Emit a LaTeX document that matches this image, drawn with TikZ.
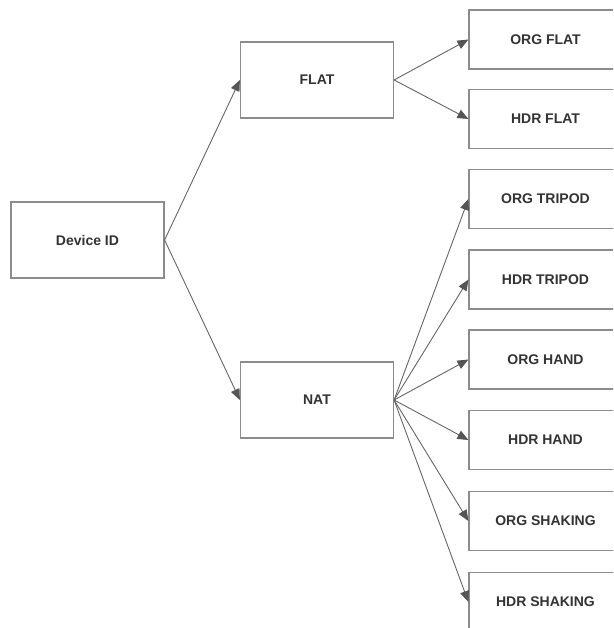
\documentclass[tikz,border=0pt]{standalone}
\usepackage{fontspec}
\setmainfont{Liberation Sans}
\usetikzlibrary{arrows.meta}
\definecolor{boxline}{HTML}{8C8C8C}
\definecolor{arrline}{HTML}{666666}
\definecolor{arrhead}{HTML}{555555}
\definecolor{txt}{HTML}{333333}
\begin{document}
\begin{tikzpicture}[x=1pt,y=-1pt,
  box/.style={draw=boxline,line width=1.2pt,fill=white,minimum width=153pt,minimum height=76pt,inner sep=0pt,font=\fontsize{14}{16}\selectfont\bfseries,text=txt},
  leaf/.style={box,minimum height=59pt},
  conn/.style={draw=arrline,line width=0.9pt,-{Triangle[length=11pt,width=9pt,color=arrhead]}}]
\clip (0,0) rectangle (613,628);
\fill[white] (0,0) rectangle (613,628);
\node[box] (dev) at (87.5,240) {Device ID};
\node[box] (flat) at (317,80) {FLAT};
\node[box] (nat) at (317,400) {NAT};
\node[leaf] (orgflat) at (545.5,39.5) {ORG FLAT};
\node[leaf] (hdrflat) at (545.5,119) {HDR FLAT};
\node[leaf] (orgtri) at (545.5,199) {ORG TRIPOD};
\node[leaf] (hdrtri) at (545.5,279.5) {HDR TRIPOD};
\node[leaf] (orghand) at (545.5,359.5) {ORG HAND};
\node[leaf] (hdrhand) at (545.5,440) {HDR HAND};
\node[leaf] (orgshak) at (545.5,521) {ORG SHAKING};
\node[leaf] (hdrshak) at (545.5,602) {HDR SHAKING};
\draw[conn] (dev.east) -- (flat.west);
\draw[conn] (dev.east) -- (nat.west);
\draw[conn] (flat.east) -- (orgflat.west);
\draw[conn] (flat.east) -- (hdrflat.west);
\foreach \t in {orgtri,hdrtri,orghand,hdrhand,orgshak,hdrshak}
  \draw[conn] (nat.east) -- (\t.west);
\end{tikzpicture}
\end{document}
